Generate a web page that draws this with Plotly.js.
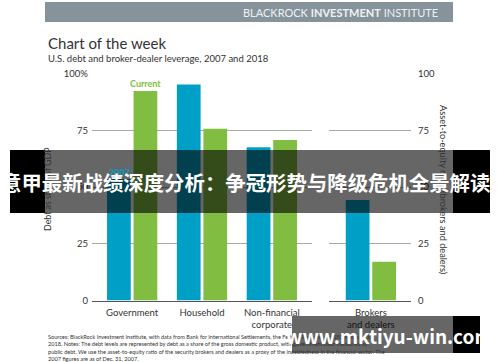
<!DOCTYPE html>
<html>
<head>
<meta charset="utf-8">
<script src="https://cdn.plot.ly/plotly-3.0.1.min.js"></script>
<style>html,body{margin:0;padding:0;background:#fff;}#chart{width:500px;height:362px;}</style>
</head>
<body>
<div id="chart"></div>
<script>
// ---- data ----
const categories = ['Government', 'Household', 'Non-financial<br>corporate'];
const debt2007 = [53.5, 95.2, 67.5];
const debtCurrent = [92.3, 75.7, 70.7];
const brokerCategories = ['Brokers<br>and dealers'];
const leverage2007 = [44.3];
const leverageCurrent = [17.1];
const leftTickVals = [0, 25, 50, 75, 100];
const leftTickText = ['0', '25', '50', '75', '100%'];
const rightTickVals = [0, 25, 50, 75, 100];
const rightTickText = ['0', '25', '50', '75', '100'];

// ---- styles ----
const BLUE = '#00a0c6';
const GREEN = '#80bd41';
const TXT = '#333333';
const FONT = 'Lato, "Open Sans", sans-serif';
const W = 500, H = 362;
const px = v => v / W;
const py = v => (H - v) / H;

const barW = 0.34;
const traces = [
  {type: 'bar', x: categories, y: debt2007, xaxis: 'x', yaxis: 'y',
   marker: {color: BLUE}, width: barW, offset: -0.36, hoverinfo: 'none'},
  {type: 'bar', x: categories, y: debtCurrent, xaxis: 'x', yaxis: 'y',
   marker: {color: GREEN}, width: barW, offset: 0.02, hoverinfo: 'none'},
  {type: 'bar', x: brokerCategories, y: leverage2007, xaxis: 'x2', yaxis: 'y2',
   marker: {color: BLUE}, width: barW, offset: -0.36, hoverinfo: 'none'},
  {type: 'bar', x: brokerCategories, y: leverageCurrent, xaxis: 'x2', yaxis: 'y2',
   marker: {color: GREEN}, width: barW, offset: 0.02, hoverinfo: 'none'}
];

const yDomain = [py(300.5), py(73.5)];
const axisCommon = {
  showgrid: false, zeroline: false, showline: true, linecolor: '#555', linewidth: 1.2,
  ticks: '', tickfont: {family: FONT, size: 9.5, color: TXT}, fixedrange: true,
  ticklabelstandoff: 3
};
const yCommon = {
  range: [0, 100], domain: yDomain, showgrid: true, gridcolor: '#a8a8a8', gridwidth: 1,
  zeroline: false, showline: false, ticks: '', fixedrange: true,
  tickfont: {family: FONT, size: 9.5, color: TXT}
};

const layout = {
  width: W, height: H,
  margin: {l: 0, r: 0, t: 0, b: 0},
  paper_bgcolor: '#ffffff', plot_bgcolor: 'rgba(0,0,0,0)',
  showlegend: false,
  xaxis: Object.assign({}, axisCommon, {domain: [px(92), px(312)], range: [-0.575, 2.575], anchor: 'y', type: 'category'}),
  xaxis2: Object.assign({}, axisCommon, {domain: [px(329), px(411)], range: [-0.6, 0.575], anchor: 'y2', type: 'category'}),
  yaxis: Object.assign({}, yCommon, {anchor: 'x', tickvals: leftTickVals, ticktext: leftTickText, ticklabelstandoff: 3}),
  yaxis2: Object.assign({}, yCommon, {anchor: 'x2', side: 'right', tickvals: rightTickVals, ticktext: rightTickText, ticklabelstandoff: 6}),
  shapes: [
    // header band
    {type: 'rect', xref: 'paper', yref: 'paper', x0: px(45), x1: px(453), y0: py(22), y1: py(2),
     fillcolor: '#87939b', line: {width: 0}, layer: 'below'},
    // main overlay banner
    {type: 'rect', xref: 'paper', yref: 'paper', x0: px(10), x1: px(45), y0: py(213), y1: py(150),
     fillcolor: '#000', line: {width: 0}, layer: 'above'},
    {type: 'rect', xref: 'paper', yref: 'paper', x0: px(45), x1: px(453), y0: py(213), y1: py(150),
     fillcolor: 'rgba(0,0,0,0.6)', line: {width: 0}, layer: 'above'},
    {type: 'rect', xref: 'paper', yref: 'paper', x0: px(453), x1: px(490), y0: py(213), y1: py(150),
     fillcolor: '#000', line: {width: 0}, layer: 'above'},
    // watermark banner
    {type: 'rect', xref: 'paper', yref: 'paper', x0: px(292), x1: px(453), y0: py(353), y1: py(316),
     fillcolor: 'rgba(0,0,0,0.6)', line: {width: 0}, layer: 'above'},
    {type: 'rect', xref: 'paper', yref: 'paper', x0: px(453), x1: px(480), y0: py(353), y1: py(316),
     fillcolor: '#000', line: {width: 0}, layer: 'above'}
  ],
  annotations: [
    {text: 'BLACKROCK <b>INVESTMENT</b> INSTITUTE', xref: 'paper', yref: 'paper', x: px(440), y: py(12.5),
     xanchor: 'right', yanchor: 'middle', showarrow: false, font: {family: FONT, size: 11, color: '#eef1f3'}},
    {text: 'Chart of the week', xref: 'paper', yref: 'paper', x: px(46), y: py(43),
     xanchor: 'left', yanchor: 'middle', showarrow: false, font: {family: FONT, size: 15, color: TXT}},
    {text: 'U.S. debt and broker-dealer leverage, 2007 and 2018', xref: 'paper', yref: 'paper', x: px(46), y: py(59),
     xanchor: 'left', yanchor: 'middle', showarrow: false, font: {family: FONT, size: 9.5, color: TXT}},
    {text: 'Current', xref: 'paper', yref: 'paper', x: px(145), y: py(83.5),
     xanchor: 'center', yanchor: 'middle', showarrow: false, font: {family: FONT, size: 9, color: GREEN, weight: 'bold'}},
    {text: '2007', xref: 'paper', yref: 'paper', x: px(119), y: py(173),
     xanchor: 'center', yanchor: 'middle', showarrow: false, font: {family: FONT, size: 9, color: BLUE, weight: 'bold'}},
    {text: 'Debt as share of GDP', xref: 'paper', yref: 'paper', x: px(48), y: py(189),
     xanchor: 'center', yanchor: 'middle', textangle: -90, showarrow: false, font: {family: FONT, size: 8.8, color: TXT}},
    {text: 'Asset-to-equity ratio (brokers and dealers)', xref: 'paper', yref: 'paper', x: px(444), y: py(190),
     xanchor: 'center', yanchor: 'middle', textangle: 90, showarrow: false, font: {family: FONT, size: 9.2, color: TXT}},
    {text: 'Sources: BlackRock Investment Institute, with data from Bank for International Settlements, the Federal Reserve and SEC filings, May<br>' +
           '2018. Notes: The debt levels are represented by debt as a share of the gross domestic product, with government debt measured as<br>' +
           'public debt. We use the asset-to-equity ratio of the security brokers and dealers as a proxy of the indebtedness in the financial sector. The<br>' +
           '2007 figures are as of Dec. 31, 2007.',
     xref: 'paper', yref: 'paper', x: px(46), y: py(331), xanchor: 'left', yanchor: 'top', align: 'left',
     showarrow: false, font: {family: FONT, size: 5.6, color: TXT}},
    {text: '意甲最新战绩深度分析：争冠形势与降级危机全景解读', xref: 'paper', yref: 'paper', x: px(245), y: py(182),
     xanchor: 'center', yanchor: 'middle', showarrow: false,
     font: {family: '"Noto Sans CJK SC", sans-serif', size: 20.4, color: '#ffffff', weight: 'bold'}},
    {text: 'www.mktiyu-win.com', xref: 'paper', yref: 'paper', x: px(389), y: py(335.5),
     xanchor: 'center', yanchor: 'middle', showarrow: false,
     font: {family: '"Noto Sans CJK SC", sans-serif', size: 19, color: '#ffffff', weight: 'bold'}}
  ]
};

Plotly.newPlot('chart', traces, layout, {staticPlot: true, displayModeBar: false});
</script>
</body>
</html>
